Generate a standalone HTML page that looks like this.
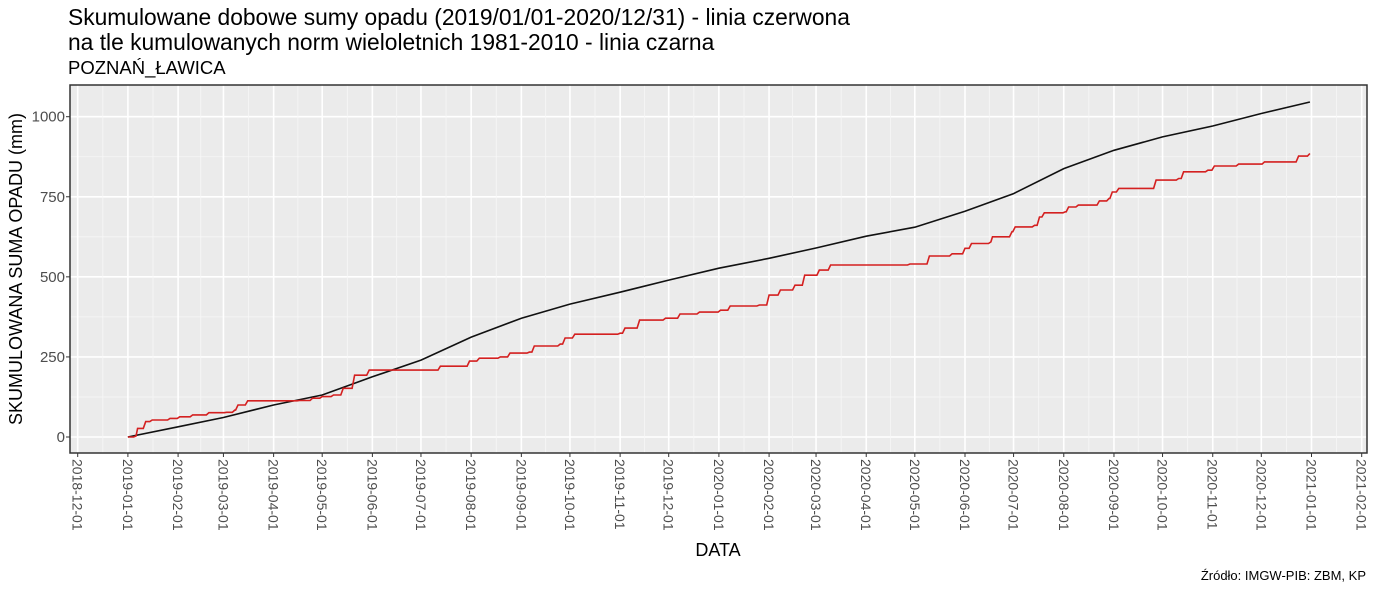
<!DOCTYPE html>
<html><head><meta charset="utf-8">
<style>
body{margin:0;background:#fff;}
svg{display:block;font-family:"Liberation Sans",sans-serif;}
</style></head>
<body>
<svg id="chart" width="1375" height="589" viewBox="0 0 1375 589" xmlns="http://www.w3.org/2000/svg">
<text x="68" y="25" font-size="22.8" fill="#000">Skumulowane dobowe sumy opadu (2019/01/01-2020/12/31) - linia czerwona</text>
<text x="68" y="50" font-size="22.8" fill="#000">na tle kumulowanych norm wieloletnich 1981-2010 - linia czarna</text>
<text x="68" y="74" font-size="18.5" fill="#000">POZNAŃ_ŁAWICA</text>
<rect x="70" y="85" width="1297" height="368" fill="#ebebeb"/>
<g id="grid"></g>
<g id="series"></g>
<rect x="70" y="85" width="1297" height="368" fill="none" stroke="#333" stroke-width="1.5"/>
<g id="axes"></g>
<text transform="translate(22,269) rotate(-90)" text-anchor="middle" font-size="18" fill="#000">SKUMULOWANA SUMA OPADU (mm)</text>
<text x="718" y="556" text-anchor="middle" font-size="18" fill="#000">DATA</text>
<text x="1366" y="580" text-anchor="end" font-size="13" fill="#000">Źródło: IMGW-PIB: ZBM, KP</text>
</svg>
<script>
const yTicks = [0, 250, 500, 750, 1000];
const xTickLabels = ["2018-12-01","2019-01-01","2019-02-01","2019-03-01","2019-04-01","2019-05-01","2019-06-01","2019-07-01","2019-08-01","2019-09-01","2019-10-01","2019-11-01","2019-12-01","2020-01-01","2020-02-01","2020-03-01","2020-04-01","2020-05-01","2020-06-01","2020-07-01","2020-08-01","2020-09-01","2020-10-01","2020-11-01","2020-12-01","2021-01-01","2021-02-01"];
// days since 2019-01-01
const normDays = [0,31,59,90,120,151,181,212,243,273,304,334,365,396,425,456,486,517,547,578,609,639,670,700,730];
const normValues = [0,32,61,100,131,188,240,312,371,415,452,490,527,558,590,627,655,705,760,838,895,937,971,1010,1046];
const obsDays = [0,5,6,11,15,26,32,40,50,61,66,68,74,106,114,120,127,133,140,149,180,193,211,217,230,236,248,251,267,270,276,304,307,316,332,341,353,366,372,390,396,403,412,418,427,434,483,495,509,517,521,533,534,546,548,560,563,566,579,581,587,598,600,606,608,612,632,635,649,652,667,671,686,702,720,723,730];
const obsValues = [0,3,27,48,53,58,63,69,76,77,84,100,113,114,121,126,131,152,193,209,209,221,237,246,250,262,265,284,290,309,321,324,340,365,371,384,390,396,409,412,443,459,474,505,521,537,540,565,572,589,604,609,625,641,656,661,687,700,703,718,724,724,737,745,765,776,776,802,807,828,833,846,852,859,859,877,885];

const NS="http://www.w3.org/2000/svg";
const x0=70,x1=1367,y0=85,y1=453;
const base=Date.UTC(2019,0,1);
function dayOf(s){const p=s.split('-');return (Date.UTC(+p[0],+p[1]-1,+p[2])-base)/86400000;}
const dMin=dayOf("2018-12-01"), dMax=dayOf("2021-02-01");
const pxL=77.7, pxR=1361.7;
function xs(d){return pxL+(d-dMin)/(dMax-dMin)*(pxR-pxL);}
function ys(v){return 437-v*(437-116.7)/1000;}
function mk(tag,attrs,parent){const e=document.createElementNS(NS,tag);for(const k in attrs)e.setAttribute(k,attrs[k]);parent.appendChild(e);return e;}
const grid=document.getElementById('grid'),axes=document.getElementById('axes'),series=document.getElementById('series');
for(let i=0;i<yTicks.length;i++){
  const y=ys(yTicks[i]);
  if(i<yTicks.length-1){const ym=ys((yTicks[i]+yTicks[i+1])/2);
    const m=mk('line',{x1:x0,x2:x1,y1:ym,y2:ym,stroke:'#f7f7f7','stroke-width':0.8},grid);
    
    }
  const g=mk('line',{x1:x0,x2:x1,y1:y,y2:y,stroke:'#fff','stroke-width':1.6},grid);
  
  
  const t=mk('text',{x:65,y:y+5,'text-anchor':'end','font-size':15,fill:'#4d4d4d'},axes);
  t.textContent=yTicks[i];
  
  
  const tk=mk('line',{x1:66,x2:70,y1:y,y2:y,stroke:'#333'},axes);
  
  
}
for(let i=0;i<xTickLabels.length;i++){
  const d=dayOf(xTickLabels[i]),x=xs(d);
  if(i<xTickLabels.length-1){const xm=xs((d+dayOf(xTickLabels[i+1]))/2);
    const m=mk('line',{x1:xm,x2:xm,y1:y0,y2:y1,stroke:'#f7f7f7','stroke-width':0.8},grid);
    
    }
  const g=mk('line',{x1:x,x2:x,y1:y0,y2:y1,stroke:'#fff','stroke-width':1.6},grid);
  
  
  const tk=mk('line',{x1:x,x2:x,y1:y1,y2:y1+4,stroke:'#333'},axes);
  
  
  const t=mk('text',{transform:`translate(${x-5},${y1+6}) rotate(90)`,'font-size':14,fill:'#4d4d4d'},axes);
  t.textContent=xTickLabels[i];
  
  
}
function pts(days,vals){return days.map((d,i)=>xs(d).toFixed(1)+','+ys(vals[i]).toFixed(1)).join(' ');}
function stepPts(days,vals){
  const out=[];
  for(let i=0;i<days.length;i++){
    if(i>0){const hold=Math.max(days[i-1],days[i]-1.5);out.push(xs(hold).toFixed(1)+','+ys(vals[i-1]).toFixed(1));}
    out.push(xs(days[i]).toFixed(1)+','+ys(vals[i]).toFixed(1));
  }
  return out.join(' ');
}
const norm=mk('polyline',{points:pts(normDays,normValues),fill:'none',stroke:'#111','stroke-width':1.6},series);


const obs=mk('polyline',{points:stepPts(obsDays,obsValues),fill:'none',stroke:'#d42020','stroke-width':1.6},series);


</script>
</body></html>
